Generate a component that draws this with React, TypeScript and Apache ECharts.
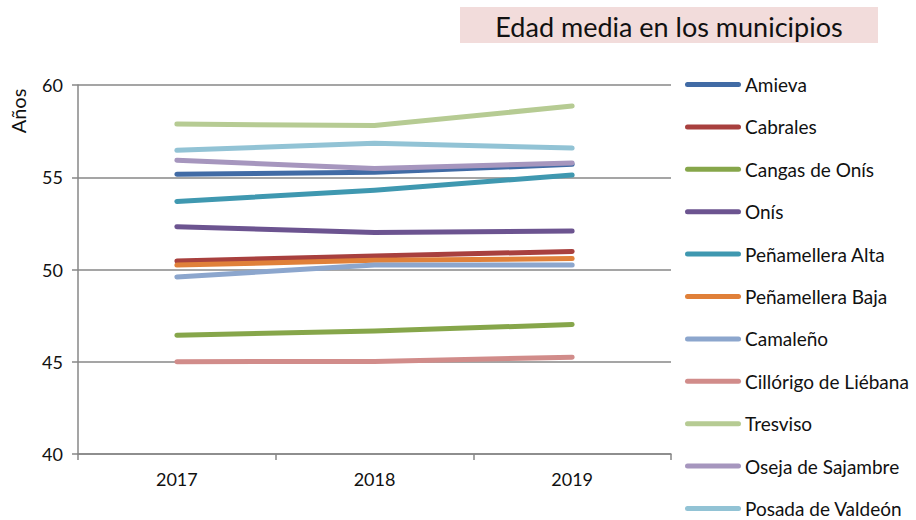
import React, { useEffect, useRef } from "react";
import * as echarts from "echarts";

const years = ["2017", "2018", "2019"];
const names = [
  "Amieva",
  "Cabrales",
  "Cangas de Onís",
  "Onís",
  "Peñamellera Alta",
  "Peñamellera Baja",
  "Camaleño",
  "Cillórigo de Liébana",
  "Tresviso",
  "Oseja de Sajambre",
  "Posada de Valdeón",
];
const amieva = [55.16, 55.27, 55.7];
const cabrales = [50.46, 50.73, 50.98];
const cangas = [46.44, 46.66, 47.02];
const onis = [52.32, 52.01, 52.08];
const penAlta = [53.69, 54.3, 55.12];
const penBaja = [50.24, 50.5, 50.59];
const camaleno = [49.6, 50.24, 50.24];
const cillorigo = [45.0, 45.02, 45.25];
const tresviso = [57.88, 57.8, 58.86];
const oseja = [55.92, 55.48, 55.77];
const posada = [56.46, 56.84, 56.58];
const values = [amieva, cabrales, cangas, onis, penAlta, penBaja, camaleno, cillorigo, tresviso, oseja, posada];
const colors = [
  "#416BA5",
  "#A8403E",
  "#86A64A",
  "#6C5490",
  "#3F98B0",
  "#E08039",
  "#8CA6CD",
  "#D18C8A",
  "#B6CB93",
  "#A696BE",
  "#92C3D5",
];
const yTicks = { min: 40, max: 60, interval: 5 };
const FONT = "Lato";

export default function App() {
  const ref = useRef<HTMLDivElement>(null);
  useEffect(() => {
    if (!ref.current) return;
    const chart = echarts.init(ref.current, null, { renderer: "svg" });
    const iconPath =
      "path://M2.5,0 L53.5,0 A2.5,2.5 0 0 1 53.5,5 L2.5,5 A2.5,2.5 0 0 1 2.5,0 Z";
    chart.setOption({
      animation: false,
      textStyle: { fontFamily: FONT },
      grid: { left: 78, top: 85, right: 245, bottom: 66, containLabel: false },
      xAxis: {
        type: "category",
        data: years,
        boundaryGap: true,
        axisLine: { show: true, lineStyle: { color: "#878787", width: 1.5 } },
        axisTick: { show: true, length: 6, lineStyle: { color: "#878787", width: 1.5 } },
        axisLabel: { color: "#111", fontSize: 18, margin: 16, fontFamily: FONT },
        splitLine: { show: false },
      },
      yAxis: {
        type: "value",
        min: yTicks.min,
        max: yTicks.max,
        interval: yTicks.interval,
        axisLine: { show: true, lineStyle: { color: "#878787", width: 1.5 } },
        axisTick: { show: true, length: 6, lineStyle: { color: "#878787", width: 1.5 } },
        axisLabel: { color: "#111", fontSize: 18, margin: 15, fontFamily: FONT },
        splitLine: { show: true, lineStyle: { color: "#878787", width: 1.5 } },
      },
      legend: {
        orient: "vertical",
        left: 685,
        top: 75,
        height: 520,
        padding: 0,
        itemWidth: 56,
        itemHeight: 5,
        itemGap: 23.4,
        icon: iconPath,
        data: names,
        textStyle: { fontSize: 19, color: "#111", fontFamily: FONT, padding: [0, 0, 0, -1] },
      },
      graphic: [
        {
          type: "rect",
          shape: { x: 460, y: 7, width: 418, height: 36 },
          style: { fill: "#F2DCDB" },
        },
        {
          type: "text",
          x: 669,
          y: 26,
          style: {
            text: "Edad media en los municipios",
            fontSize: 27,
            fontFamily: FONT,
            fill: "#111",
            textAlign: "center",
            textVerticalAlign: "middle",
          },
        },
        {
          type: "text",
          x: 18,
          y: 111,
          rotation: Math.PI / 2,
          style: {
            text: "Años",
            fontSize: 20,
            fontFamily: FONT,
            fill: "#111",
            textAlign: "center",
            textVerticalAlign: "middle",
          },
        },
      ],
      series: names.map((n, i) => ({
        name: n,
        type: "line",
        data: values[i],
        symbol: "none",
        color: colors[i],
        lineStyle: { width: 5, cap: "round", join: "round", color: colors[i] },
      })),
    });
    return () => chart.dispose();
  }, []);
  return <div ref={ref} style={{ width: 916, height: 520, position: "absolute", left: 0, top: 0 }} />;
}
